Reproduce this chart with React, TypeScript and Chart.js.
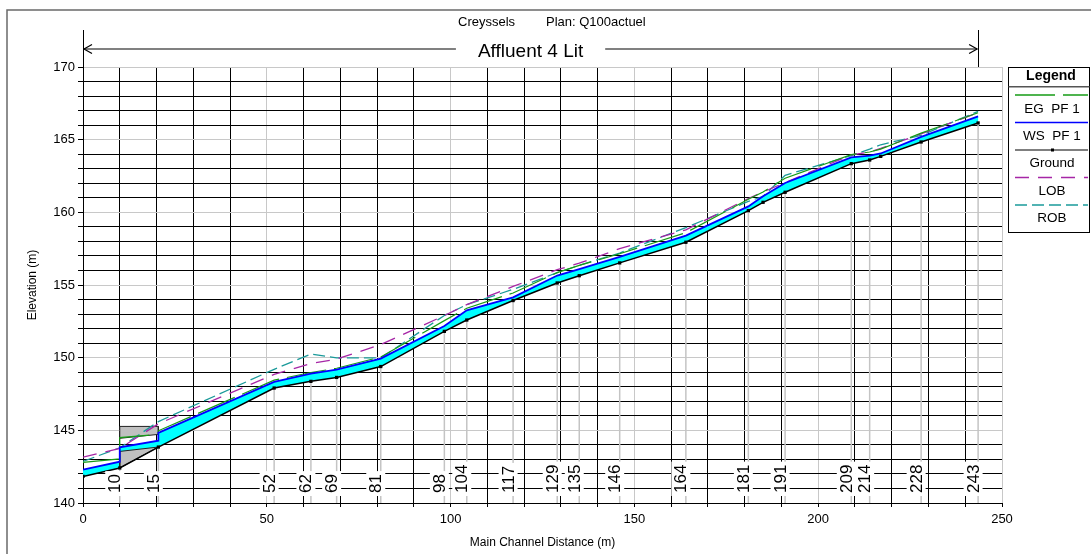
import React, { useEffect, useRef } from 'react';
import { Chart, registerables } from 'chart.js';

Chart.register(...registerables);

const FONT = '"Liberation Sans", Arial, Helvetica, sans-serif';

// Main channel distances (m) and elevations (m)
const groundX = [0, 10, 20.5, 52, 62, 69, 81, 98.3, 104.4, 117, 129, 135, 146, 164, 181, 185, 191, 209, 214, 217, 228, 243.5];
const groundY = [141.83, 142.41, 143.85, 147.91, 148.37, 148.64, 149.39, 151.81, 152.59, 153.93, 155.14, 155.64, 156.52, 157.94, 160.12, 160.69, 161.38, 163.35, 163.6, 163.85, 164.84, 166.15];

const wsX = [0, 10, 10, 20.5, 20.5, 52, 62, 69, 81, 98.3, 104.4, 117, 129, 135, 146, 164, 181, 185, 191, 209, 214, 217, 228, 243.5];
const wsY = [142.29, 142.84, 143.83, 144.29, 144.82, 148.33, 148.9, 149.17, 149.94, 152.18, 153.26, 154.15, 155.65, 156.1, 156.93, 158.4, 160.41, 161.1, 162.02, 163.78, 163.9, 164.05, 165.19, 166.6];

const egX = [0, 10, 10, 20.5, 20.5, 52, 62, 69, 81, 98.3, 104.4, 117, 129, 135, 146, 164, 181, 185, 191, 209, 214, 217, 228, 243.5];
const egY = [142.8, 143.03, 144.5, 144.72, 144.97, 148.45, 148.98, 149.27, 150.05, 152.55, 153.4, 154.45, 155.85, 156.35, 157.15, 158.6, 160.9, 161.4, 162.35, 163.97, 164.15, 164.35, 165.45, 166.85];

const lobX = [0, 10, 20.5, 52, 62, 69, 81, 98.3, 104.4, 117, 129, 135, 146, 164, 181, 185, 191, 209, 214, 217, 228, 243.5];
const lobY = [143.15, 143.75, 145.45, 148.85, 149.6, 149.9, 150.9, 152.9, 153.65, 154.9, 156.05, 156.5, 157.5, 158.8, 160.95, 161.4, 162.05, 163.95, 164.15, 164.4, 165.4, 166.85];

const robX = [0, 10, 20.5, 52, 62, 69, 81, 98.3, 104.4, 117, 129, 135, 146, 164, 181, 185, 191, 209, 214, 217, 228, 243.5];
const robY = [142.86, 143.8, 145.6, 149.2, 150.25, 149.98, 149.98, 152.9, 153.65, 154.7, 155.85, 156.35, 157.2, 158.95, 160.75, 161.1, 162.55, 163.9, 164.35, 164.65, 165.3, 166.95];

// Bridge (deck and internal ground)
const deckX = [10, 20.5, 20.5, 10, 10];
const deckY = [145.27, 145.27, 144.72, 144.45, 145.27];
const bridgeGroundX = [10, 20.5, 10, 10];
const bridgeGroundY = [142.41, 143.85, 143.55, 142.41];

// River station labels and their distances
const stationNames = ['10', '15', '52', '62', '69', '81', '98', '104', '117', '129', '135', '146', '164', '181', '191', '209', '214', '228', '243'];
const stationDist = [10, 20.5, 52, 62, 69, 81, 98.3, 104.4, 117, 129, 135, 146, 164, 181, 191, 209, 214, 228, 243.5];

const reachName = 'Affluent 4 Lit';
const reachStart = 0;
const reachEnd = 243.5;

const pts = (xs: number[], ys: number[]) => xs.map((x, i) => ({ x, y: ys[i] }));

const waterPts = [...pts(wsX, wsY), ...pts(groundX, groundY).reverse()];

const COLORS = {
  ground: '#000000',
  ws: '#0000ff',
  eg: '#169c16',
  lob: '#a626a6',
  rob: '#1a9a9a',
  water: '#00ffff',
  bridge: '#c0c0c0',
};
const DASH = { eg: [40, 8], lob: [14, 9], rob: [12, 5] };

const isMult = (v: number, m: number) => Math.abs(v / m - Math.round(v / m)) < 1e-6;

const decor = {
  id: 'decor',
  beforeDatasetsDraw(chart: any) {
    const { ctx, scales } = chart;
    const x = scales.x, y = scales.y;
    ctx.save();
    ctx.strokeStyle = '#c4c4c4';
    ctx.lineWidth = 1.5;
    stationDist.forEach((d) => {
      const gi = groundX.indexOf(d);
      if (gi < 0) return;
      const px = x.getPixelForValue(d);
      ctx.beginPath();
      ctx.moveTo(px, y.getPixelForValue(groundY[gi]));
      ctx.lineTo(px, y.getPixelForValue(140));
      ctx.stroke();
    });
    ctx.restore();
  },
  afterDatasetsDraw(chart: any) {
    const { ctx, scales } = chart;
    const x = scales.x;
    ctx.save();
    ctx.font = `17px ${FONT}`;
    stationNames.forEach((name, i) => {
      const px = x.getPixelForValue(stationDist[i]) + 0.5;
      const w = ctx.measureText(name).width;
      ctx.save();
      ctx.translate(px, 493);
      ctx.rotate(-Math.PI / 2);
      ctx.fillStyle = '#ffffff';
      ctx.fillRect(-3, -15, w + 6, 19);
      ctx.fillStyle = '#000000';
      ctx.textAlign = 'left';
      ctx.textBaseline = 'alphabetic';
      ctx.fillText(name, 0, 0);
      ctx.restore();
    });
    ctx.restore();
  },
  afterDraw(chart: any) {
    const { ctx, scales, chartArea } = chart;
    const x = scales.x;
    ctx.save();
    // figure frame
    ctx.strokeStyle = '#6a6a6a';
    ctx.lineWidth = 1.5;
    ctx.beginPath();
    ctx.moveTo(7, 554);
    ctx.lineTo(7, 10);
    ctx.lineTo(1091, 10);
    ctx.stroke();

    // header
    ctx.fillStyle = '#000';
    ctx.font = `13px ${FONT}`;
    ctx.textAlign = 'left';
    ctx.textBaseline = 'alphabetic';
    ctx.fillText('Creyssels', 458, 25.5);
    ctx.fillText('Plan: Q100actuel', 546, 25.5);

    // reach arrow
    const x0 = x.getPixelForValue(reachStart);
    const x1 = x.getPixelForValue(reachEnd);
    const ay = 49;
    ctx.font = `19px ${FONT}`;
    const tw = ctx.measureText(reachName).width;
    const cx = (x0 + x1) / 2;
    ctx.textAlign = 'center';
    ctx.fillText(reachName, cx, 56.5);
    ctx.strokeStyle = '#808080';
    ctx.lineWidth = 2;
    ctx.beginPath();
    ctx.moveTo(x0 + 1, ay);
    ctx.lineTo(cx - tw / 2 - 22, ay);
    ctx.moveTo(cx + tw / 2 + 22, ay);
    ctx.lineTo(x1 - 1, ay);
    ctx.stroke();
    ctx.strokeStyle = '#000';
    ctx.lineWidth = 1.2;
    ctx.beginPath();
    ctx.moveTo(x0 + 9, ay - 4.5);
    ctx.lineTo(x0 + 1, ay);
    ctx.lineTo(x0 + 9, ay + 4.5);
    ctx.moveTo(x1 - 9, ay - 4.5);
    ctx.lineTo(x1 - 1, ay);
    ctx.lineTo(x1 - 9, ay + 4.5);
    ctx.stroke();
    ctx.lineWidth = 1;
    ctx.beginPath();
    ctx.moveTo(Math.round(x0) + 0.5, 30);
    ctx.lineTo(Math.round(x0) + 0.5, chartArea.top);
    ctx.moveTo(Math.round(x1) + 0.5, 30);
    ctx.lineTo(Math.round(x1) + 0.5, chartArea.top);
    ctx.stroke();

    // axis titles
    ctx.fillStyle = '#000';
    ctx.font = `12px ${FONT}`;
    ctx.textAlign = 'center';
    ctx.textBaseline = 'middle';
    ctx.fillText('Main Channel Distance (m)', (chartArea.left + chartArea.right) / 2, 543);
    ctx.save();
    ctx.translate(33, (chartArea.top + chartArea.bottom) / 2);
    ctx.rotate(-Math.PI / 2);
    ctx.fillText('Elevation (m)', 0, 0);
    ctx.restore();

    // legend
    const lx = 1008.5, ly = 67.5, lw = 81, lh = 165;
    ctx.fillStyle = '#fff';
    ctx.fillRect(lx, ly, lw, lh);
    ctx.strokeStyle = '#000';
    ctx.lineWidth = 1;
    ctx.strokeRect(lx, ly, lw, lh);
    ctx.fillStyle = '#000';
    ctx.font = `bold 14px ${FONT}`;
    ctx.textAlign = 'center';
    ctx.textBaseline = 'alphabetic';
    ctx.fillText('Legend', 1051, 80);
    ctx.strokeStyle = '#555';
    ctx.lineWidth = 1.5;
    ctx.beginPath();
    ctx.moveTo(lx, 86.7);
    ctx.lineTo(lx + lw, 86.7);
    ctx.stroke();
    const entries = [
      { label: 'EG  PF 1', color: COLORS.eg, dash: DASH.eg, w: 1.3, dot: false },
      { label: 'WS  PF 1', color: COLORS.ws, dash: [] as number[], w: 1.5, dot: false },
      { label: 'Ground', color: COLORS.ground, dash: [] as number[], w: 1.2, dot: true },
      { label: 'LOB', color: COLORS.lob, dash: DASH.lob, w: 1.3, dot: false },
      { label: 'ROB', color: COLORS.rob, dash: DASH.rob, w: 1.3, dot: false },
    ];
    entries.forEach((e, i) => {
      const lyy = 95 + i * 27.5;
      ctx.strokeStyle = e.color;
      ctx.lineWidth = e.w;
      ctx.setLineDash(e.dash);
      ctx.beginPath();
      ctx.moveTo(1015, lyy);
      ctx.lineTo(1088, lyy);
      ctx.stroke();
      ctx.setLineDash([]);
      if (e.dot) {
        ctx.fillStyle = '#000';
        ctx.fillRect(1051, lyy - 1.5, 3, 3);
      }
      ctx.fillStyle = '#000';
      ctx.font = `13.5px ${FONT}`;
      ctx.textAlign = 'center';
      ctx.fillText(e.label, 1052, 112.5 + i * 27.4);
    });
    ctx.restore();
  },
};

export default function App() {
  const ref = useRef<HTMLCanvasElement>(null);
  useEffect(() => {
    const canvas = ref.current;
    if (!canvas) return;
    const chart = new Chart(canvas, {
      type: 'line',
      data: {
        datasets: [
          {
            label: 'Ground',
            data: pts(groundX, groundY),
            borderColor: COLORS.ground,
            borderWidth: 1.5,
            pointStyle: 'rect',
            pointRadius: 2.3,
            pointBackgroundColor: '#000',
            pointBorderWidth: 0,
            fill: false,
          },
          {
            label: 'WS  PF 1',
            data: pts(wsX, wsY),
            borderColor: COLORS.ws,
            borderWidth: 1.8,
            pointRadius: 0,
            fill: false,
          },
          {
            label: 'EG  PF 1',
            data: pts(egX, egY),
            borderColor: COLORS.eg,
            borderWidth: 1.2,
            borderDash: DASH.eg,
            pointRadius: 0,
            fill: false,
          },
          {
            label: 'LOB',
            data: pts(lobX, lobY),
            borderColor: COLORS.lob,
            borderWidth: 1.3,
            borderDash: DASH.lob,
            pointRadius: 0,
            fill: false,
          },
          {
            label: 'ROB',
            data: pts(robX, robY),
            borderColor: COLORS.rob,
            borderWidth: 1.3,
            borderDash: DASH.rob,
            pointRadius: 0,
            fill: false,
          },
          {
            label: 'Bridge deck',
            data: pts(deckX, deckY),
            borderColor: '#222',
            borderWidth: 1,
            backgroundColor: COLORS.bridge,
            pointRadius: 0,
            fill: 'shape',
          },
          {
            label: 'Bridge ground',
            data: pts(bridgeGroundX, bridgeGroundY),
            borderColor: '#222',
            borderWidth: 1,
            backgroundColor: COLORS.bridge,
            pointRadius: 0,
            fill: 'shape',
          },
          {
            label: 'Water',
            data: waterPts,
            borderColor: 'rgba(0,0,0,0)',
            borderWidth: 0,
            backgroundColor: COLORS.water,
            pointRadius: 0,
            fill: 'shape',
          },
        ],
      },
      options: {
        animation: false,
        responsive: false,
        devicePixelRatio: 1,
        layout: { padding: { left: 0, top: 67, right: 89, bottom: 0 } },
        elements: { line: { tension: 0 } },
        plugins: {
          legend: { display: false },
          tooltip: { enabled: false },
          title: { display: false },
        },
        scales: {
          x: {
            type: 'linear',
            min: 0,
            max: 250,
            ticks: {
              stepSize: 10,
              autoSkip: false,
              maxRotation: 0,
              color: '#000',
              padding: 5,
              font: { family: FONT, size: 13 },
              callback: (v: any) => (isMult(Number(v), 50) ? String(v) : ''),
            },
            grid: {
              color: (c: any) => (c.tick && isMult(c.tick.value, 50) ? '#c8c8c8' : '#000'),
              lineWidth: 1,
              tickLength: 4,
              tickColor: '#000',
            },
            border: { color: '#000', width: 1 },
            afterFit: (s: any) => {
              s.height = 51;
            },
          },
          y: {
            type: 'linear',
            min: 140,
            max: 170,
            ticks: {
              stepSize: 1,
              autoSkip: false,
              color: '#000',
              padding: 3,
              font: { family: FONT, size: 13 },
              callback: (v: any) => (isMult(Number(v), 5) ? String(v) : ''),
            },
            grid: {
              color: (c: any) => (c.tick && isMult(c.tick.value, 5) ? '#c8c8c8' : '#000'),
              lineWidth: 1,
              tickLength: 5,
              tickColor: '#000',
            },
            border: { color: '#000', width: 1 },
            afterFit: (s: any) => {
              s.width = 83;
            },
          },
        },
      } as any,
      plugins: [decor],
    });
    return () => chart.destroy();
  }, []);

  return (
    <div style={{ position: 'fixed', left: 0, top: 0, width: 1091, height: 554, background: '#fff' }}>
      <canvas ref={ref} width={1091} height={554} style={{ width: 1091, height: 554, display: 'block' }} />
    </div>
  );
}
